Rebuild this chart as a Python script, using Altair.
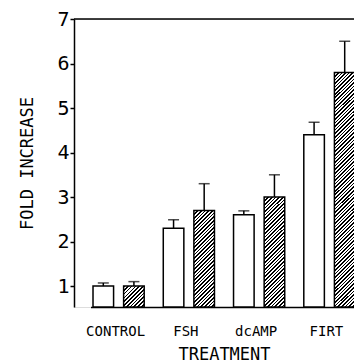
import math
import altair as alt
import pandas as pd

categories = ["CONTROL", "FSH", "dcAMP", "FIRT"]
series = ["open", "hatched"]
open_vals = [1.0, 2.3, 2.6, 4.4]
open_tops = [1.07, 2.49, 2.69, 4.68]
hatched_vals = [1.0, 2.7, 3.0, 5.8]
hatched_tops = [1.1, 3.3, 3.5, 6.5]
y_ticks = [1, 2, 3, 4, 5, 6, 7]

Y_MIN, Y_MAX = 0.53, 7
W, H = 280, 288
FONT = "DejaVu Sans Mono"

rows = []
for i, c in enumerate(categories):
    rows.append({"cat": c, "s": "open", "v": open_vals[i], "top": open_tops[i]})
    rows.append({"cat": c, "s": "hatched", "v": hatched_vals[i], "top": hatched_tops[i]})
df = pd.DataFrame(rows)

xs = alt.X("cat:N", sort=categories,
           scale=alt.Scale(domain=categories, range=[16.5, 283.5], paddingInner=0.2, paddingOuter=0),
           axis=alt.Axis(title="TREATMENT", labelAngle=0, ticks=False, tickSize=0,
                         labelFont=FONT, labelFontSize=14, labelColor="black",
                         labelBaseline="alphabetic", labelPadding=28, labelOffset=-3,
                         titleFont=FONT, titleFontSize=17, titleFontWeight="normal",
                         titleColor="black", titleBaseline="alphabetic", titleY=52,
                         domainColor="black", domainWidth=1.5))
xo = alt.XOffset("s:N", sort=series,
                 scale=alt.Scale(domain=series, paddingInner=0.328, paddingOuter=0.082))
ys = alt.Y("v:Q", scale=alt.Scale(domain=[Y_MIN, Y_MAX], nice=False, zero=False),
           axis=alt.Axis(title="FOLD INCREASE", values=y_ticks, grid=False, format="d",
                         tickSize=4, tickColor="black", tickWidth=1.5,
                         labelFont=FONT, labelFontSize=20, labelColor="black", labelPadding=1,
                         titleFont=FONT, titleFontSize=17, titleFontWeight="normal",
                         titleColor="black", titleX=-47, titleY=H / 2, titleBaseline="middle",
                         domainColor="black", domainWidth=1.5))
y_base = alt.datum(Y_MIN)

base = alt.Chart(df)

open_bars = base.transform_filter(alt.datum.s == "open").mark_bar(
    fill="white", stroke="black", strokeWidth=1.5).encode(x=xs, xOffset=xo, y=ys, y2=y_base)

# per-bar hatch gradient (styling derived from each bar's size)
bar_w = 20.5
period = 2.55
hatch_layers = []
for i, c in enumerate(categories):
    h = (hatched_vals[i] - Y_MIN) * H / (Y_MAX - Y_MIN)
    k = (bar_w + h) / (bar_w ** 2 + h ** 2)
    L = (bar_w + h) / math.sqrt(2)
    n = max(1, int(round(L / period)))
    stops = []
    for j in range(n):
        a = j / n
        b = (j + 0.45) / n
        e = (j + 1) / n
        stops += [alt.GradientStop(offset=a, color="black"),
                  alt.GradientStop(offset=b, color="black"),
                  alt.GradientStop(offset=b, color="white"),
                  alt.GradientStop(offset=e, color="white")]
    grad = alt.LinearGradient(gradient="linear", x1=0, y1=0, x2=bar_w * k, y2=h * k, stops=stops)
    hatch_layers.append(
        base.transform_filter((alt.datum.s == "hatched") & (alt.datum.cat == c)).mark_bar(
            fill=grad, stroke="black", strokeWidth=1.5).encode(x=xs, xOffset=xo, y=ys, y2=y_base))

err = base.mark_rule(color="black", strokeWidth=1.5).encode(
    x=xs, xOffset=xo, y=alt.Y("v:Q"), y2="top:Q")
caps = base.mark_tick(color="black", thickness=1.5, size=11, orient="horizontal").encode(
    x=xs, xOffset=xo, y=alt.Y("top:Q"))
top_line = alt.Chart(pd.DataFrame({"y": [Y_MAX]})).mark_rule(
    color="black", strokeWidth=1.5).encode(y=alt.Y("y:Q"))

chart = alt.layer(open_bars, *hatch_layers, err, caps, top_line).properties(
    width=W, height=H,
    autosize=alt.AutoSizeParams(type="none"),
    padding={"left": 74, "top": 19, "right": 0, "bottom": 56},
).configure_view(stroke=None).configure(background="white")

chart.save("out.html", embed_options={"renderer": "svg", "actions": False})
